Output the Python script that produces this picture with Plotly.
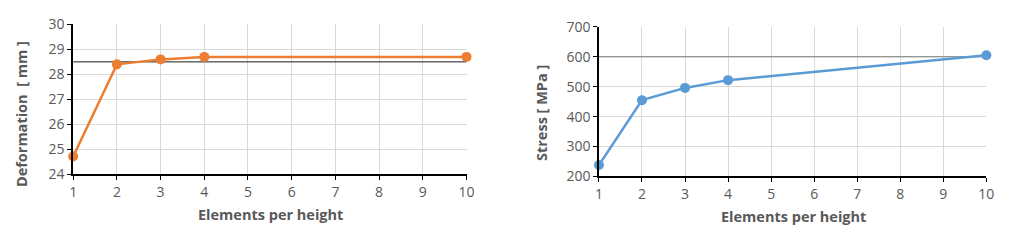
import plotly.graph_objects as go

elements = [1, 2, 3, 4, 10]
deformation = [24.7, 28.4, 28.6, 28.7, 28.7]
stress = [238, 455, 496, 522, 605]
deformation_ref = 28.5
stress_ref = 600

x_ticks = list(range(1, 11))
def_ticks = [24, 25, 26, 27, 28, 29, 30]
stress_ticks = [200, 300, 400, 500, 600, 700]

font_family = "Open Sans, Liberation Sans, sans-serif"
tick_color = "#595959"
title_color = "#595959"

fig = go.Figure()

# left chart
fig.add_trace(go.Scatter(x=[elements[0], elements[-1]], y=[deformation_ref, deformation_ref],
                         mode="lines", line=dict(color="#1a1a1a", width=1),
                         xaxis="x", yaxis="y", showlegend=False, hoverinfo="skip"))
fig.add_trace(go.Scatter(x=elements, y=deformation, mode="lines+markers",
                         line=dict(color="#ED7D31", width=2.5),
                         marker=dict(color="#ED7D31", size=10),
                         xaxis="x", yaxis="y", showlegend=False, cliponaxis=False))

# right chart
fig.add_trace(go.Scatter(x=[elements[0], elements[-1]], y=[stress_ref, stress_ref],
                         mode="lines", line=dict(color="#7a7a7a", width=1),
                         xaxis="x2", yaxis="y2", showlegend=False, hoverinfo="skip"))
fig.add_trace(go.Scatter(x=elements, y=stress, mode="lines+markers",
                         line=dict(color="#5B9BD5", width=2.5),
                         marker=dict(color="#5B9BD5", size=10),
                         xaxis="x2", yaxis="y2", showlegend=False, cliponaxis=False))

common_x = dict(range=[1, 10], tickmode="array", tickvals=x_ticks,
                showgrid=True, gridcolor="#d9d9d9", gridwidth=1,
                showline=True, linecolor="black", linewidth=1.5,
                ticks="outside", ticklen=4, tickcolor="black", tickwidth=1,
                tickfont=dict(family=font_family, size=14, color=tick_color),
                zeroline=False, fixedrange=True)
common_y = dict(showgrid=True, gridcolor="#d9d9d9", gridwidth=1,
                showline=True, linecolor="black", linewidth=1.5,
                ticks="outside", ticklen=4, tickcolor="black", tickwidth=1,
                tickfont=dict(family=font_family, size=14, color=tick_color),
                zeroline=False, fixedrange=True)

fig.update_layout(
    width=1024, height=247,
    margin=dict(l=0, r=0, t=0, b=0),
    paper_bgcolor="white", plot_bgcolor="white",
    xaxis=dict(domain=[70/1024, 468/1024], anchor="y", **common_x),
    yaxis=dict(domain=[1-177.7/247, 1-15.7/247], anchor="x", range=[24, 30],
               tickvals=def_ticks, **common_y),
    xaxis2=dict(domain=[602/1024, 994/1024], anchor="y2", **common_x),
    yaxis2=dict(domain=[1-180.3/247, 1-18.3/247], anchor="x2", range=[200, 700],
                tickvals=stress_ticks, **common_y),
)

title_font = dict(family=font_family, size=14.5, color=title_color)
fig.add_annotation(text="<b>Deformation  [ mm ]</b>", x=18/1024, y=1-113/247,
                   xref="paper", yref="paper", textangle=-90, showarrow=False,
                   font=title_font, xanchor="center", yanchor="middle")
fig.add_annotation(text="<b>Elements per height</b>", x=270/1024, y=1-222/247,
                   xref="paper", yref="paper", showarrow=False,
                   font=title_font, xanchor="center", yanchor="middle")
fig.add_annotation(text="<b>Stress [ MPa ]</b>", x=544/1024, y=1-112/247,
                   xref="paper", yref="paper", textangle=-90, showarrow=False,
                   font=title_font, xanchor="center", yanchor="middle")
fig.add_annotation(text="<b>Elements per height</b>", x=799/1024, y=1-224/247,
                   xref="paper", yref="paper", showarrow=False,
                   font=title_font, xanchor="center", yanchor="middle")

fig.write_html("out.html")
